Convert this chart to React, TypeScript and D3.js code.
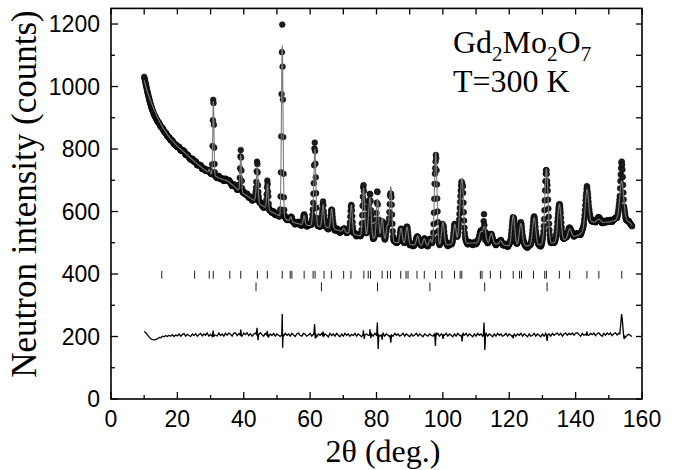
import React from 'react';
import * as d3 from 'd3';

const W = 676;
const H = 470;

const xTickLabels = [0, 20, 40, 60, 80, 100, 120, 140, 160];
const yTickLabels = [0, 200, 400, 600, 800, 1000, 1200];

// Background of the pattern (2theta, counts)
const bgX = [10, 10.5, 11, 12, 13, 14, 15, 16, 17, 18, 19, 20, 22, 24, 26, 28, 29.5, 31, 32, 33.5, 35, 36.5, 38, 40, 42, 44, 46, 48, 50, 52, 54, 56, 58, 61, 64, 66, 68, 70, 73, 76, 80, 84, 88, 92, 96, 100, 104, 108, 112, 116, 120, 124, 128, 132, 135, 137, 139, 141, 142.5, 143.5, 145, 148, 150, 152, 153.5, 155, 156, 157];
const bgY = [1020, 1000, 982, 952, 926, 902, 880, 862, 846, 832, 820, 809, 790, 771, 752, 735, 724, 716, 710, 703, 699, 686, 672, 657, 643, 629, 616, 601, 590, 579, 569, 562, 557, 554, 551, 548, 541, 535, 527, 520, 512, 504, 497, 492, 489, 491, 497, 499, 499, 496, 490, 489, 492, 497, 503, 510, 518, 525, 538, 555, 566, 565, 566, 572, 585, 575, 567, 558];

// Bragg reflections: position and calculated height above background
const peakPos = [29.6, 30.85, 39.1, 43.7, 44.1, 47.15, 51.6, 54.2, 58.2, 60.9, 61.45, 63.9, 66.5, 70.1, 72.4, 76.1, 77.6, 78.1, 80.3, 81.7, 83.3, 84.3, 87.4, 89.2, 92.4, 94.4, 96.2, 97.85, 100.0, 103.6, 105.2, 105.85, 111.4, 112.5, 114.6, 117.4, 121.2, 123.5, 127.5, 131.2, 135.1, 138.2, 143.4, 147.0, 153.9];
const peakHeight = [12, 235, 116, 20, 110, 80, 550, 15, 30, 40, 240, 70, 62, 12, 92, 155, 40, 115, 128, 70, 50, 175, 48, 55, 30, 22, 22, 297, 75, 62, 85, 180, 35, 52, 33, 12, 98, 72, 88, 240, 120, 30, 117, 10, 115];

// Bragg tick marks
const braggMain = [15.3, 25.2, 29.6, 30.8, 35.8, 39.1, 44.1, 47.1, 51.6, 54.0, 54.5, 58.2, 60.9, 61.5, 64.2, 66.4, 70.1, 72.3, 76.2, 77.5, 78.2, 81.7, 83.3, 84.2, 87.3, 88.9, 89.5, 92.2, 94.4, 97.8, 99.7, 103.5, 105.2, 105.7, 111.3, 111.8, 114.3, 117.4, 121.2, 123.1, 123.7, 127.3, 130.7, 131.2, 135.1, 138.2, 143.4, 147.0, 153.9];
const braggSecond = [43.7, 63.4, 80.3, 96.1, 112.6, 131.4];

// Difference curve (obs - calc, offset), sampled every 0.5 deg from 10
const diffStart = 10;
const diffStep = 0.5;
const diffBase = [
  216, 212, 205, 198, 193, 190, 189, 191, 192, 197,
  196, 201, 199, 203, 200, 204, 201, 206, 200, 205,
  202, 208, 201, 206, 209, 201, 207, 203, 200, 208,
  203, 209, 201, 206, 210, 202, 208, 204, 211, 201,
  207, 200, 210, 204, 202, 211, 203, 208, 201, 210,
  204, 211, 207, 201, 210, 212, 203, 209, 207, 201,
  211, 206, 212, 203, 209, 201, 207, 211, 203, 210,
  212, 206, 201, 210, 204, 200, 208, 203, 210, 201,
  208, 204, 200, 209, 202, 210, 204, 208, 201, 210,
  205, 200, 208, 211, 203, 201, 210, 207, 201, 205,
  210, 201, 208, 204, 199, 208, 204, 210, 201, 208,
  204, 199, 210, 203, 208, 201, 210, 204, 199, 208,
  201, 210, 204, 208, 201, 207, 203, 210, 201, 208,
  204, 199, 210, 201, 208, 204, 199, 208, 201, 210,
  204, 208, 201, 205, 210, 201, 208, 204, 199, 208,
  201, 210, 204, 208, 201, 205, 210, 201, 208, 204,
  199, 208, 201, 205, 210, 201, 208, 204, 199, 208,
  204, 201, 208, 204, 201, 208, 204, 210, 201, 208,
  199, 204, 210, 201, 208, 204, 199, 208, 201, 210,
  204, 201, 208, 204, 210, 201, 208, 204, 199, 208,
  201, 210, 204, 208, 201, 204, 210, 201, 208, 204,
  199, 208, 201, 210, 204, 208, 201, 204, 210, 201,
  208, 204, 199, 208, 201, 208, 204, 210, 201, 208,
  204, 199, 208, 201, 204, 210, 201, 208, 204, 199,
  208, 201, 210, 204, 208, 201, 210, 204, 208, 211,
  204, 210, 201, 208, 211, 204, 210, 206, 211, 204,
  210, 212, 206, 201, 210, 204, 207, 211, 204, 210,
  206, 211, 203, 209, 212, 205, 201, 210, 204, 211,
  206, 211, 203, 209, 212, 205, 210, 206, 212, 207,
  197, 204, 207, 203, 200,
];
// Sharp features of the difference curve near misfit reflections
const diffSpikes: [number, number][][] = [
  [[30.6, 205], [30.8, 219], [31.0, 199], [31.2, 205]],
  [[38.9, 205], [39.1, 222], [39.3, 201]],
  [[43.8, 207], [44.0, 228], [44.3, 188], [44.5, 206]],
  [[46.95, 205], [47.1, 218], [47.3, 198], [47.45, 206]],
  [[51.45, 205], [51.6, 272], [51.72, 164], [51.85, 205]],
  [[61.1, 205], [61.35, 240], [61.55, 194], [61.75, 205]],
  [[63.7, 205], [63.9, 216], [64.1, 201]],
  [[75.9, 205], [76.05, 220], [76.3, 192], [76.5, 205]],
  [[77.9, 205], [78.05, 223], [78.3, 195], [78.45, 205]],
  [[80.05, 205], [80.25, 245], [80.5, 160], [80.7, 205]],
  [[81.5, 205], [81.7, 190], [81.9, 205]],
  [[84.05, 205], [84.3, 180], [84.55, 205]],
  [[97.55, 205], [97.75, 170], [97.95, 212], [98.15, 205]],
  [[99.85, 205], [100.05, 192], [100.25, 205]],
  [[105.55, 205], [105.8, 184], [106.05, 212], [106.25, 205]],
  [[112.2, 205], [112.4, 245], [112.65, 157], [112.85, 205]],
  [[121.05, 205], [121.2, 194], [121.4, 205]],
  [[131.15, 205], [131.4, 186], [131.6, 205]],
  [[143.2, 205], [143.4, 216], [143.6, 205]],
  [[153.3, 208], [153.6, 240], [153.85, 272], [154.1, 250], [154.35, 215], [154.6, 192], [154.85, 200], [155.05, 197]],
];
const diffOffset = 205;

const braggMainRange = [385, 410];
const braggSecondRange = [345, 373];

export default function App() {
  const x = d3.scaleLinear().domain([0, 160]).range([111, 642]);
  const y = d3.scaleLinear().domain([0, 1250]).range([399, 8.4]);
  const bg = d3.scaleLinear().domain(bgX).range(bgY).clamp(true);
  const sigma = (t: number) => 0.12 + 0.003 * (t - 10);
  const calc = (t: number) => {
    let v = bg(t);
    for (let i = 0; i < peakPos.length; i++) {
      const s = sigma(peakPos[i]);
      const d = (t - peakPos[i]) / s;
      if (Math.abs(d) < 8) v += peakHeight[i] * Math.exp(-0.5 * d * d);
    }
    return v;
  };

  const ranges = diffSpikes.map((g) => [g[0][0], g[g.length - 1][0]]);
  const diffPts: [number, number][] = diffBase
    .map((v, i) => [diffStart + i * diffStep, v] as [number, number])
    .filter(([t]) => !ranges.some(([a, b]) => t >= a - 0.001 && t <= b + 0.001));
  diffSpikes.forEach((g) => g.forEach((p) => diffPts.push(p)));
  diffPts.sort((a, b) => a[0] - b[0]);
  const diffFn = d3.scaleLinear().domain(diffPts.map((d) => d[0])).range(diffPts.map((d) => d[1])).clamp(true);

  const obs: [number, number][] = [];
  for (let i = 0; i <= 1470; i++) {
    const t = Math.round((10 + i * 0.1) * 10) / 10;
    obs.push([t, calc(t) + diffFn(t) - diffOffset]);
  }
  const calcPts: [number, number][] = [];
  for (let i = 0; i <= 7350; i++) {
    const t = 10 + i * 0.02;
    calcPts.push([t, calc(t)]);
  }
  const line = d3.line<[number, number]>().x((d) => x(d[0])).y((d) => y(d[1]));

  const xMinor = d3.range(0, 161, 10);
  const yMinor = d3.range(0, 1250, 100);
  const L = 111, R = 642, T = 8.4, B = 399;
  const serif = "'Liberation Serif', 'Times New Roman', serif";
  const sans = "'Liberation Sans', Arial, sans-serif";

  return (
    <svg width={W} height={H} style={{ position: 'absolute', left: 0, top: 0, background: '#fff' }}>
      <g>
        {obs.map((d, i) => (
          <circle key={i} cx={x(d[0])} cy={y(d[1])} r={2.9} fill="#1e1e1e" stroke="#000" strokeWidth={0.5} />
        ))}
      </g>
      <path d={line(calcPts) || ''} fill="none" stroke="#7a7a7a" strokeWidth={1.1} />
      <path d={line(diffPts) || ''} fill="none" stroke="#000" strokeWidth={1.3} />
      {braggMain.map((b, i) => (
        <line key={'m' + i} x1={x(b)} x2={x(b)} y1={y(braggMainRange[0])} y2={y(braggMainRange[1])} stroke="#000" strokeWidth={0.9} />
      ))}
      {braggSecond.map((b, i) => (
        <line key={'s' + i} x1={x(b)} x2={x(b)} y1={y(braggSecondRange[0])} y2={y(braggSecondRange[1])} stroke="#000" strokeWidth={0.9} />
      ))}
      <rect x={L} y={T} width={R - L} height={B - T} fill="none" stroke="#000" strokeWidth={1.6} />
      {xMinor.map((v) => {
        const major = v % 20 === 0;
        return (
          <g key={'xt' + v}>
            <line x1={x(v)} x2={x(v)} y1={B} y2={B - (major ? 7 : 4)} stroke="#000" strokeWidth={1.3} />
            <line x1={x(v)} x2={x(v)} y1={T} y2={T + 6} stroke="#000" strokeWidth={1.3} />
          </g>
        );
      })}
      {yMinor.map((v) => {
        const major = v % 200 === 0;
        return (
          <g key={'yt' + v}>
            <line x1={L} x2={L + (major ? 7 : 4)} y1={y(v)} y2={y(v)} stroke="#000" strokeWidth={1.3} />
            <line x1={R} x2={R - 6} y1={y(v)} y2={y(v)} stroke="#000" strokeWidth={1.3} />
          </g>
        );
      })}
      {xTickLabels.map((v) => (
        <text key={'xl' + v} x={x(v)} y={427} textAnchor="middle" fontFamily={sans} fontSize={23} fill="#000">
          {v}
        </text>
      ))}
      {yTickLabels.map((v) => (
        <text key={'yl' + v} x={100} y={y(v) + 8} textAnchor="end" fontFamily={sans} fontSize={23} fill="#000">
          {v}
        </text>
      ))}
      <text x={383} y={462} textAnchor="middle" fontFamily={serif} fontSize={32} fill="#000">
        2θ (deg.)
      </text>
      <text transform="translate(36,194) rotate(-90)" textAnchor="middle" fontFamily={serif} fontSize={35} fill="#000">
        Neutron intensity (counts)
      </text>
      <text x={453} y={53} fontFamily={serif} fontSize={32} fill="#000">
        Gd<tspan fontSize={21} baselineShift="-8">2</tspan>Mo<tspan fontSize={21} baselineShift="-8">2</tspan>O<tspan fontSize={21} baselineShift="-8">7</tspan>
      </text>
      <text x={453} y={92} fontFamily={serif} fontSize={32} fill="#000">
        T=300 K
      </text>
    </svg>
  );
}
